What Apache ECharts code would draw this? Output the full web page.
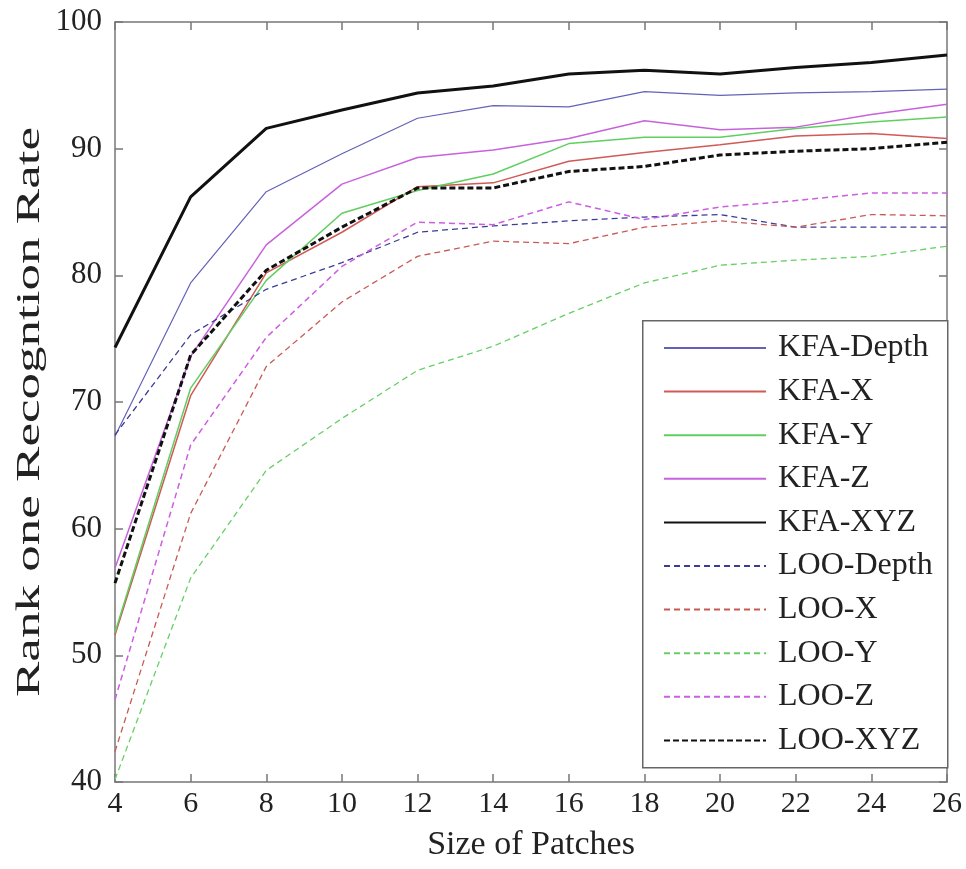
<!DOCTYPE html>
<html>
<head>
<meta charset="utf-8">
<script src="https://cdn.jsdelivr.net/npm/echarts@6/dist/echarts.min.js"></script>
<style>html,body{margin:0;padding:0;background:#fff}#c{width:966px;height:869px}</style>
</head>
<body>
<div id="c"></div>
<script>
var sizes = [4, 6, 8, 10, 12, 14, 16, 18, 20, 22, 24, 26];
var yTicks = [40, 50, 60, 70, 80, 90, 100];
var kfaDepth = [67.3, 79.4, 86.6, 89.6, 92.4, 93.4, 93.3, 94.5, 94.2, 94.4, 94.5, 94.7];
var kfaX     = [51.6, 70.5, 80.2, 83.4, 87.0, 87.3, 89.0, 89.7, 90.3, 91.0, 91.2, 90.8];
var kfaY     = [51.8, 71.1, 79.6, 84.9, 86.7, 88.0, 90.4, 90.9, 90.9, 91.6, 92.1, 92.5];
var kfaZ     = [56.9, 73.6, 82.4, 87.2, 89.3, 89.9, 90.8, 92.2, 91.5, 91.7, 92.7, 93.5];
var kfaXYZ   = [74.3, 86.2, 91.6, 93.05, 94.4, 94.95, 95.9, 96.2, 95.9, 96.4, 96.8, 97.4];
var looDepth = [67.4, 75.3, 78.9, 81.0, 83.4, 83.9, 84.3, 84.6, 84.8, 83.8, 83.8, 83.8];
var looX     = [42.4, 61.2, 72.8, 77.9, 81.5, 82.7, 82.5, 83.8, 84.3, 83.8, 84.8, 84.7];
var looY     = [40.2, 56.1, 64.6, 68.7, 72.5, 74.4, 77.0, 79.4, 80.8, 81.2, 81.5, 82.3];
var looZ     = [46.5, 66.6, 75.1, 80.7, 84.2, 84.0, 85.8, 84.4, 85.4, 85.9, 86.5, 86.5];
var looXYZ   = [55.7, 73.7, 80.4, 83.8, 86.9, 86.9, 88.2, 88.6, 89.5, 89.8, 90.0, 90.5];
var names = ['KFA-Depth','KFA-X','KFA-Y','KFA-Z','KFA-XYZ','LOO-Depth','LOO-X','LOO-Y','LOO-Z','LOO-XYZ'];
var seriesData = [kfaDepth, kfaX, kfaY, kfaZ, kfaXYZ, looDepth, looX, looY, looZ, looXYZ];
var colors = ['#6262b8','#d05a55','#5fcf5f','#c862dc','#111111','#3c3c98','#c85a55','#66d066','#cc5ee0','#111111'];
var xTitle = 'Size of Patches';
var yTitle = 'Rank one Recogntion Rate';

var FONT = '"Liberation Serif", "DejaVu Serif", serif';
var styles = [
  {w:1.2, t:'solid'},{w:1.5, t:'solid'},{w:1.5, t:'solid'},{w:1.5, t:'solid'},{w:3, t:'solid'},
  {w:1.3, t:[6,4]},{w:1.3, t:[6,4]},{w:1.3, t:[6,4]},{w:1.5, t:[6,4]},{w:3, t:[6,3]}
];

var series = names.map(function(n, i){
  return {
    name: n, type: 'line', symbol: 'none', showSymbol: false,
    data: sizes.map(function(x, j){ return [x, seriesData[i][j]]; }),
    lineStyle: {color: colors[i], width: styles[i].w, type: styles[i].t},
    itemStyle: {color: colors[i]},
    z: (i === 4 || i === 9) ? 3 : 2,
    animation: false
  };
});

var chart = echarts.init(document.getElementById('c'), null, {renderer: 'canvas'});
var axisLine = {show: true, lineStyle: {color: '#777', width: 1.5}};
var tick = {show: true, inside: true, length: 8, lineStyle: {color: '#777', width: 1.5}};
chart.setOption({
  animation: false,
  backgroundColor: '#fff',
  grid: {left: 115, right: 19, top: 22, bottom: 87, show: false},
  xAxis: [{
    type: 'value', min: 4, max: 26, interval: 2, position: 'bottom',
    name: xTitle, nameLocation: 'middle', nameGap: 46,
    nameTextStyle: {fontFamily: FONT, fontSize: 34, color: '#222'},
    axisLine: axisLine, axisTick: tick,
    axisLabel: {fontFamily: FONT, fontSize: 30, color: '#222', margin: 7},
    splitLine: {show: false}
  },{
    type: 'value', min: 4, max: 26, interval: 2, position: 'top',
    axisLine: axisLine, axisTick: tick,
    axisLabel: {show: false}, splitLine: {show: false}
  }],
  yAxis: [{
    type: 'value', min: 40, max: 100, interval: 10, position: 'left',
    axisLine: axisLine, axisTick: tick,
    axisLabel: {fontFamily: FONT, fontSize: 31, color: '#222', margin: 13},
    splitLine: {show: false}
  },{
    type: 'value', min: 40, max: 100, interval: 10, position: 'right',
    axisLine: axisLine, axisTick: tick,
    axisLabel: {show: false}, splitLine: {show: false}
  }],
  legend: {
    orient: 'vertical', left: 663, top: 332, z: 10, padding: 0,
    itemWidth: 102, itemHeight: 28, itemGap: 11.6,
    itemStyle: {opacity: 0},
    data: names,
    textStyle: {fontFamily: FONT, fontSize: 32, color: '#222', padding: [0,0,0,7]}
  },
  graphic: [{
    type: 'rect', z: 8, left: 642, top: 320,
    shape: {width: 305, height: 447},
    style: {fill: '#fff', stroke: '#666', lineWidth: 1.5}
  },{
    type: 'text', z: 8, x: 30, y: 412, rotation: Math.PI / 2, scaleX: 1.56,
    style: {text: yTitle, fontFamily: FONT, fontSize: 34, fill: '#222', align: 'center', verticalAlign: 'middle'}
  }],
  series: series
});
</script>
</body>
</html>
